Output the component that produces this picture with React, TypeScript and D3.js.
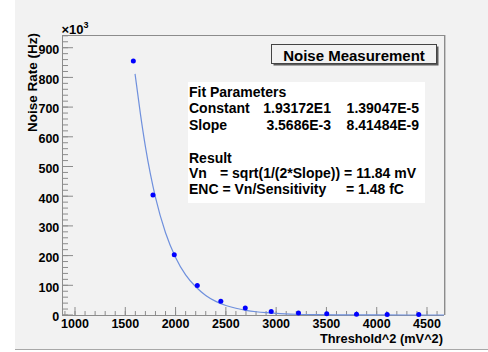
import React from "react";
import * as d3 from "d3";

// Data points (threshold^2 in mV^2, noise rate in kHz)
const thresholds = [1580, 1775, 1987, 2216, 2450, 2693, 2951, 3222, 3503, 3799, 4104, 4418];
const rates = [855, 404, 203, 99, 46, 23.6, 11.8, 6.7, 4, 2.4, 1.7, 1.7];

// Fit curve samples
const fitX = [1597, 1650, 1700, 1750, 1800, 1900, 2000, 2100, 2200, 2300, 2400, 2500, 2600, 2700, 2800, 2900, 3000, 3200, 3400, 3600, 3800, 4000, 4300, 4669];
const fitY = [812, 678, 567, 474, 396, 277, 194, 135, 95, 66, 46, 32, 22.6, 15.8, 11, 7.7, 5.4, 2.6, 1.3, 0.6, 0.3, 0.15, 0.05, 0.01];

const xMajorTicks = [1000, 1500, 2000, 2500, 3000, 3500, 4000, 4500];
const yMajorTicks = [0, 100, 200, 300, 400, 500, 600, 700, 800, 900];

const titleText = "Noise Measurement";
const xTitle = "Threshold^2 (mV^2)";
const yTitle = "Noise Rate (Hz)";

const FONT = "'Liberation Sans', Arial, Helvetica, sans-serif";

export default function App() {
  const W = 488, H = 352;
  const left = 62, right = 444, top = 35, bottom = 315;
  const x = d3.scaleLinear().domain([870.7, 4669]).range([left, right]);
  const y = d3.scaleLinear().domain([0, 942.8]).range([bottom, top]);

  const xMinor = d3.range(900, 4700, 100).filter((v) => x(v) >= left && x(v) <= right);
  const yMinor = d3.range(0, 943, 20);

  const line = d3
    .line<number>()
    .x((_, i) => x(fitX[i]))
    .y((d) => y(d))
    .curve(d3.curveMonotoneX);

  const axisColor = "#8c8c8c";

  return (
    <svg
      width={W}
      height={H}
      style={{ position: "absolute", left: 0, top: 0, fontFamily: FONT }}
    >
      <rect x={0} y={0} width={W} height={H} fill="#ffffff" />
      <rect x={15} y={0} width={W - 15} height={349} fill="#f2f2f2" />
      <line x1={15} x2={W} y1={349.5} y2={349.5} stroke="#a8a8a8" strokeWidth={1} />

      {/* frame */}
      <line x1={left} x2={right} y1={top + 0.5} y2={top + 0.5} stroke={axisColor} />
      <line x1={right + 0.5} x2={right + 0.5} y1={top} y2={bottom} stroke={axisColor} />
      <line x1={right + 1.5} x2={right + 1.5} y1={top} y2={bottom} stroke="#c8c8c8" />
      <line x1={left + 0.5} x2={left + 0.5} y1={top} y2={bottom} stroke={axisColor} />
      <line x1={left} x2={right} y1={bottom + 0.5} y2={bottom + 0.5} stroke={axisColor} />

      {/* x ticks */}
      {xMinor.map((v) => (
        <line key={"xm" + v} x1={x(v)} x2={x(v)} y1={bottom} y2={bottom - 4} stroke={axisColor} />
      ))}
      {xMajorTicks.map((v) => (
        <line key={"xM" + v} x1={x(v)} x2={x(v)} y1={bottom} y2={bottom - 8} stroke={axisColor} />
      ))}
      {xMajorTicks.map((v) => (
        <text
          key={"xl" + v}
          x={x(v)}
          y={327.6}
          textAnchor="middle"
          fontSize={12.5}
          fontWeight="bold"
          fill="#000"
        >
          {v}
        </text>
      ))}

      {/* y ticks */}
      {yMinor.map((v) => (
        <line key={"ym" + v} x1={left} x2={left + 6} y1={y(v)} y2={y(v)} stroke={axisColor} />
      ))}
      {yMajorTicks.map((v) => (
        <line key={"yM" + v} x1={left} x2={left + 11} y1={y(v)} y2={y(v)} stroke={axisColor} />
      ))}
      {yMajorTicks.map((v) => (
        <text
          key={"yl" + v}
          x={59.3}
          y={y(v) + 6.3}
          textAnchor="end"
          fontSize={12.5}
          fontWeight="bold"
          fill="#000"
        >
          {v}
        </text>
      ))}
      <text x={61.5} y={33.5} fontSize={13} fontWeight="bold" fill="#000">
        ×10
        <tspan dy={-6} fontSize={9}>3</tspan>
      </text>

      {/* axis titles */}
      <text x={443} y={342.5} textAnchor="end" fontSize={12.8} fontWeight="bold" fill="#000">
        {xTitle}
      </text>
      <text
        transform={`translate(37, 33) rotate(-90)`}
        textAnchor="end"
        fontSize={13.5}
        fontWeight="bold"
        fill="#000"
      >
        {yTitle}
      </text>

      {/* fit curve */}
      <path d={line(fitY) || ""} fill="none" stroke="#6f90dd" strokeWidth={1.2} />

      {/* data points */}
      {thresholds.map((t, i) => (
        <circle key={"p" + i} cx={x(t)} cy={y(rates[i])} r={2.5} fill="#0000ff" />
      ))}

      {/* stat box */}
      <rect x={188} y={82} width={237} height={121} fill="#ffffff" />
      <g fontSize={14} fontWeight="bold" fill="#000">
        <text x={189} y={96.7}>Fit Parameters</text>
        <text x={189} y={113.3}>Constant</text>
        <text x={331} y={113.3} textAnchor="end">1.93172E1</text>
        <text x={419} y={113.3} textAnchor="end">1.39047E-5</text>
        <text x={189} y={130}>Slope</text>
        <text x={331} y={130} textAnchor="end">3.5686E-3</text>
        <text x={419} y={130} textAnchor="end">8.41484E-9</text>
        <text x={189} y={162.7}>Result</text>
        <text x={189} y={178.3}>Vn</text>
        <text x={220} y={178.3}>= sqrt(1/(2*Slope)) = 11.84 mV</text>
        <text x={189} y={194}>ENC = Vn/Sensitivity</text>
        <text x={346} y={194}>= 1.48 fC</text>
      </g>

      {/* title box */}
      <rect x={273.5} y={46.5} width={165} height={19} fill="#5a5a5a" />
      <rect x={271.5} y={44.5} width={165} height={19} fill="#f2f2f2" stroke="#444" strokeWidth={1} />
      <text x={354} y={61.3} textAnchor="middle" fontSize={15} fontWeight="bold" fill="#000">
        {titleText}
      </text>
    </svg>
  );
}
